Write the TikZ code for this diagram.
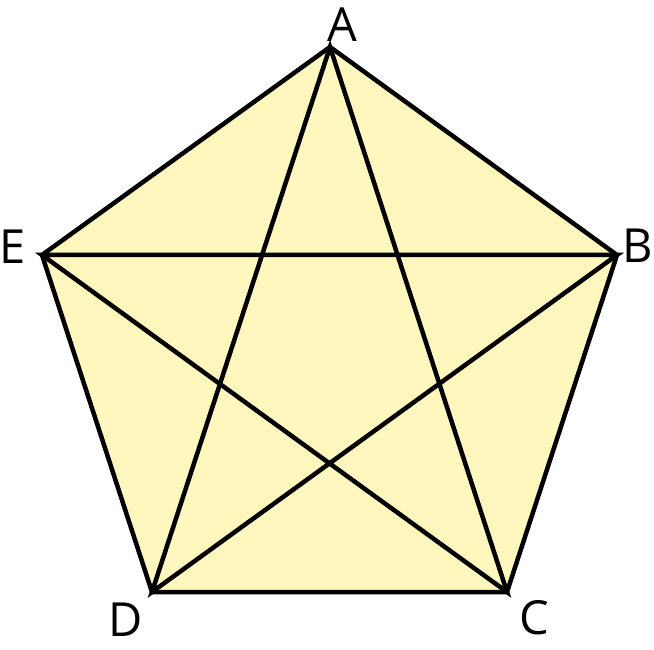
\documentclass[tikz,border=0pt]{standalone}
\usepackage{fontspec}
\setmainfont{Open Sans}
\definecolor{penfill}{HTML}{FFF7BD}
\begin{document}
\begin{tikzpicture}[x=1pt,y=-1pt,
  edge/.style={line width=4.5pt,line join=miter,black},
  lbl/.style={font=\fontsize{47}{47}\selectfont,inner sep=0pt}]
\useasboundingbox (0,0) rectangle (654,650);
\coordinate (A) at (330,47);
\coordinate (B) at (617,255);
\coordinate (C) at (507,592);
\coordinate (D) at (152,592);
\coordinate (E) at (42,255);
\fill[penfill] (A) -- (B) -- (C) -- (D) -- (E) -- cycle;
\draw[edge] (A) -- (B) -- (C) -- (D) -- (E) -- cycle;
\draw[edge] (A) -- (C) -- (E) -- (B) -- (D) -- cycle;
\node[lbl] (la) at (342,25) {A};
\node[lbl] (lb) at (638,246) {B};
\node[lbl] (lc) at (534,618) {C};
\node[lbl] (ld) at (126,620) {D};
\node[lbl] (le) at (13,247) {E};
\end{tikzpicture}
\end{document}
